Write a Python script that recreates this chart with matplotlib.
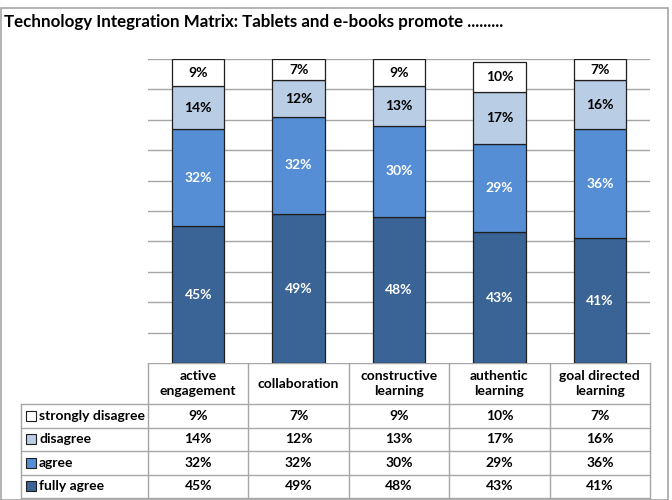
import numpy as np
import matplotlib.pyplot as plt
from matplotlib.patches import Rectangle

plt.rcParams['font.family'] = ['Lato', 'DejaVu Sans']

# Data
categories = ['active\nengagement', 'collaboration', 'constructive\nlearning',
              'authentic\nlearning', 'goal directed\nlearning']
series_names = ['strongly disagree', 'disagree', 'agree', 'fully agree']
fully_agree = [45, 49, 48, 43, 41]
agree = [32, 32, 30, 29, 36]
disagree = [14, 12, 13, 17, 16]
strongly_disagree = [9, 7, 9, 10, 7]

colors = {'fully agree': '#3A6496', 'agree': '#558ED5',
          'disagree': '#B9CDE5', 'strongly disagree': '#FFFFFF'}
text_colors = {'fully agree': 'white', 'agree': 'white',
               'disagree': 'black', 'strongly disagree': 'black'}

W, H = 672, 500
fig = plt.figure(figsize=(W / 100, H / 100), dpi=100)

# outer frame
fig.patches.append(Rectangle((1 / W, 0), 667 / W, (H - 8) / H, transform=fig.transFigure,
                             fill=False, edgecolor='#A6A6A6', linewidth=1.2))

fig.text(4 / W, 1 - 22 / H, 'Technology Integration Matrix: Tablets and e-books promote .........',
         fontsize=12.2, fontweight='bold', va='center', ha='left')

# bar chart area
left, right, top, bottom = 148, 650, 59, 363
ax = fig.add_axes([left / W, 1 - bottom / H, (right - left) / W, (bottom - top) / H])
x = np.arange(len(categories))
stack = [('fully agree', fully_agree), ('agree', agree),
         ('disagree', disagree), ('strongly disagree', strongly_disagree)]
base = np.zeros(len(categories))
for name, vals in stack:
    vals = np.array(vals, dtype=float)
    ax.bar(x, vals, bottom=base, width=0.52, color=colors[name],
           edgecolor='#1F1F1F', linewidth=0.9, zorder=3)
    for xi, b, v in zip(x, base, vals):
        ax.text(xi, b + v / 2, f'{int(v)}%', ha='center', va='center',
                fontsize=10, fontweight='bold', color=text_colors[name], zorder=4)
    base += vals

ax.set_xlim(-0.5, len(categories) - 0.5)
ax.set_ylim(0, 100)
ax.set_yticks(np.arange(10, 101, 10))
ax.yaxis.grid(True, color='#A6A6A6', linewidth=1, zorder=0)
ax.tick_params(left=False, bottom=False, labelleft=False, labelbottom=False)
for s in ax.spines.values():
    s.set_visible(False)

# data table below
tab_left, head_bot, tab_bot = 21, 404, 498
tax = fig.add_axes([0, 0, 1, 1], zorder=-1)
tax.set_xlim(0, W)
tax.set_ylim(H, 0)
tax.axis('off')
col_edges = np.linspace(left, right, len(categories) + 1)
row_edges = np.linspace(head_bot, tab_bot, len(series_names) + 1)
lc = '#A6A6A6'
# header
tax.plot([left, right], [bottom, bottom], color=lc, lw=1)
for ce in col_edges:
    tax.plot([ce, ce], [bottom, tab_bot], color=lc, lw=1)
tax.plot([tab_left, tab_left], [head_bot, tab_bot], color=lc, lw=1)
for re in row_edges:
    tax.plot([tab_left, right], [re, re], color=lc, lw=1)
for i, cat in enumerate(categories):
    tax.text((col_edges[i] + col_edges[i + 1]) / 2, (bottom + head_bot) / 2, cat,
             ha='center', va='center', fontsize=10, fontweight='bold', linespacing=1.3)
row_values = {'strongly disagree': strongly_disagree, 'disagree': disagree,
              'agree': agree, 'fully agree': fully_agree}
for r, name in enumerate(series_names):
    yc = (row_edges[r] + row_edges[r + 1]) / 2
    tax.add_patch(Rectangle((26, yc - 5), 10, 10, facecolor=colors[name],
                            edgecolor='#1F1F1F', linewidth=0.8))
    tax.text(39, yc, name, ha='left', va='center', fontsize=10, fontweight='bold')
    for i, v in enumerate(row_values[name]):
        tax.text((col_edges[i] + col_edges[i + 1]) / 2, yc, f'{v}%',
                 ha='center', va='center', fontsize=10, fontweight='bold')

fig.savefig('out.png', dpi=100)
